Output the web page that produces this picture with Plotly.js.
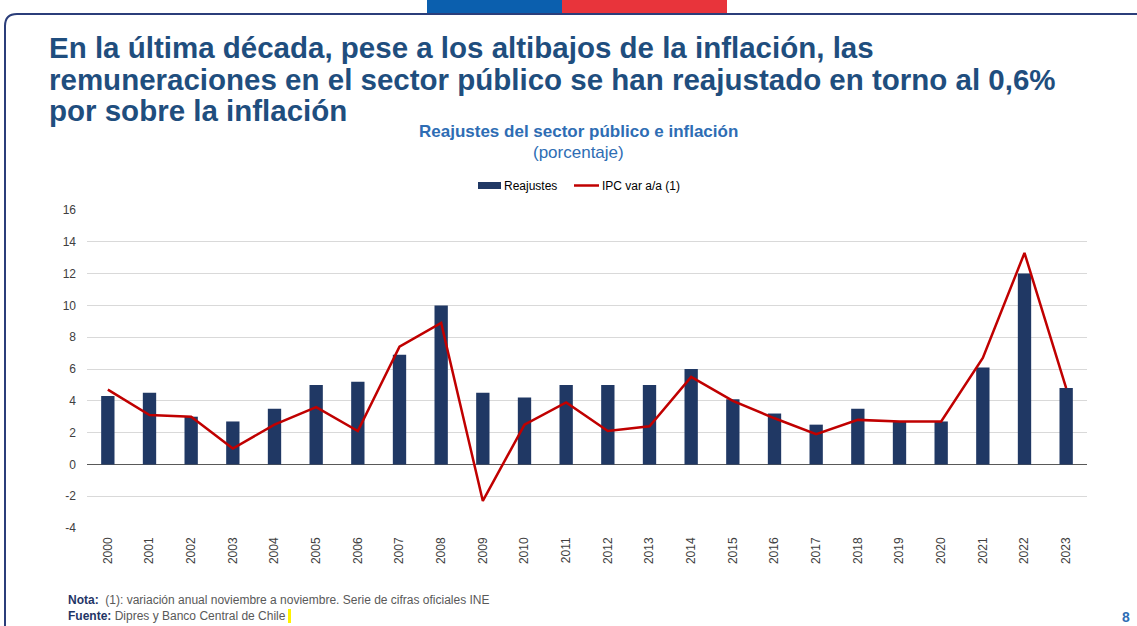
<!DOCTYPE html>
<html>
<head>
<meta charset="utf-8">
<script src="https://cdn.plot.ly/plotly-3.0.1.min.js"></script>
<style>
html,body{margin:0;padding:0;background:#fff;}
#chart{width:1137px;height:626px;}
</style>
</head>
<body>
<div id="chart"></div>
<script>
const years = ['2000','2001','2002','2003','2004','2005','2006','2007','2008','2009','2010','2011','2012','2013','2014','2015','2016','2017','2018','2019','2020','2021','2022','2023'];
const reajustes = [4.3,4.5,3.0,2.7,3.5,5.0,5.2,6.9,10.0,4.5,4.2,5.0,5.0,5.0,6.0,4.1,3.2,2.5,3.5,2.7,2.7,6.1,12.0,4.8];
const ipc = [4.7,3.1,3.0,1.0,2.5,3.6,2.1,7.4,8.9,-2.3,2.5,3.9,2.1,2.4,5.5,4.0,2.9,1.9,2.8,2.7,2.7,6.7,13.3,4.8];
const yTicks = [-4,-2,0,2,4,6,8,10,12,14,16];
const seriesNames = ['Reajustes','IPC var a/a (1)'];
const titleLines = ['En la última década, pese a los altibajos de la inflación, las',
                    'remuneraciones en el sector público se han reajustado en torno al 0,6%',
                    'por sobre la inflación'];

const W = 1137, H = 626;
const L = 87, R = 1087, T = 210, B = 528;
const px = x => (x - L) / (R - L);
const py = y => (B - y) / (B - T);

const navy = '#203864';
const red = '#C00000';
const font = 'Liberation Sans, Arial, sans-serif';
const titleBlue = '#1F4E7E';
const chartBlue = '#2E6DB4';

const traces = [
  {type:'bar', name:seriesNames[0], x:years, y:reajustes, marker:{color:navy}, width:0.32, showlegend:false},
  {type:'scatter', mode:'lines', name:seriesNames[1], x:years, y:ipc, line:{color:red, width:2.5}, showlegend:false}
];

const shapes = [
  // flag bar
  {type:'rect', xref:'paper', yref:'paper', x0:px(427), x1:px(562), y0:py(0), y1:py(14), fillcolor:'#0B5FAE', line:{width:0}, layer:'above'},
  {type:'rect', xref:'paper', yref:'paper', x0:px(562), x1:px(727), y0:py(0), y1:py(14), fillcolor:'#E8343B', line:{width:0}, layer:'above'},
  // rounded border
  {type:'path', xref:'paper', yref:'paper',
   path:`M ${px(5)},${py(626)} L ${px(5)},${py(26)} Q ${px(5)},${py(14)} ${px(17)},${py(14)} L ${px(1137)},${py(14)}`,
   line:{color:'#2B3E7A', width:2}},
  // legend keys
  {type:'rect', xref:'paper', yref:'paper', x0:px(478), x1:px(501), y0:py(189), y1:py(182), fillcolor:navy, line:{width:0}},
  {type:'line', xref:'paper', yref:'paper', x0:px(574), x1:px(599), y0:py(185.5), y1:py(185.5), line:{color:red, width:2.5}},
  // yellow cursor highlight
  {type:'rect', xref:'paper', yref:'paper', x0:px(288), x1:px(291), y0:py(609), y1:py(623), fillcolor:'#FFF200', line:{width:0}}
];

const annotations = [];
const titleY = [47, 79, 111];
titleLines.forEach((t, i) => annotations.push({
  xref:'paper', yref:'paper', x:px(47), y:py(titleY[i]), xanchor:'left', yanchor:'middle', showarrow:false,
  text:'<b>' + t + '</b>', font:{family:font, size:29.5, color:titleBlue}
}));
annotations.push(
  {xref:'paper', yref:'paper', x:px(578), y:py(131), xanchor:'center', yanchor:'middle', showarrow:false,
   text:'<b>Reajustes del sector público e inflación</b>', font:{family:font, size:17, color:chartBlue}},
  {xref:'paper', yref:'paper', x:px(578), y:py(153), xanchor:'center', yanchor:'middle', showarrow:false,
   text:'(porcentaje)', font:{family:font, size:17, color:chartBlue}},
  {xref:'paper', yref:'paper', x:px(502), y:py(185.5), xanchor:'left', yanchor:'middle', showarrow:false,
   text:seriesNames[0], font:{family:font, size:12, color:'#000'}},
  {xref:'paper', yref:'paper', x:px(600), y:py(185.5), xanchor:'left', yanchor:'middle', showarrow:false,
   text:seriesNames[1], font:{family:font, size:12, color:'#000'}},
  {xref:'paper', yref:'paper', x:px(66), y:py(600), xanchor:'left', yanchor:'middle', align:'left', showarrow:false,
   text:'<b><span style="color:#1F3566">Nota:</span></b>  (1): variación anual noviembre a noviembre. Serie de cifras oficiales INE',
   font:{family:font, size:12, color:'#595959'}},
  {xref:'paper', yref:'paper', x:px(66), y:py(616), xanchor:'left', yanchor:'middle', align:'left', showarrow:false,
   text:'<b><span style="color:#1F3566">Fuente:</span></b> Dipres y Banco Central de Chile',
   font:{family:font, size:12, color:'#595959'}},
  {xref:'paper', yref:'paper', x:px(1126), y:py(617), xanchor:'center', yanchor:'middle', showarrow:false,
   text:'<b>8</b>', font:{family:font, size:14, color:chartBlue}}
);

const layout = {
  width:W, height:H,
  margin:{l:L, r:W-R, t:T, b:H-B, pad:0},
  paper_bgcolor:'#fff', plot_bgcolor:'#fff',
  font:{family:font, size:12, color:'#404040'},
  showlegend:false,
  xaxis:{type:'category', tickangle:-90, showgrid:false, zeroline:false, showline:false, ticks:'',
         ticklabelstandoff:6, tickfont:{family:font, size:12, color:'#404040'}, automargin:false},
  yaxis:{range:[-4,16], tickvals:yTicks, ticktext:yTicks.map(String), showgrid:true, gridcolor:'#D9D9D9', gridwidth:1,
         zeroline:true, zerolinecolor:'#595959', zerolinewidth:1.5, showline:false, ticks:'',
         ticklabelstandoff:10, tickfont:{family:font, size:12, color:'#404040'}, automargin:false, fixedrange:true},
  bargap:0.68,
  shapes:shapes,
  annotations:annotations
};

Plotly.newPlot('chart', traces, layout, {displayModeBar:false, staticPlot:true});
</script>
</body>
</html>
